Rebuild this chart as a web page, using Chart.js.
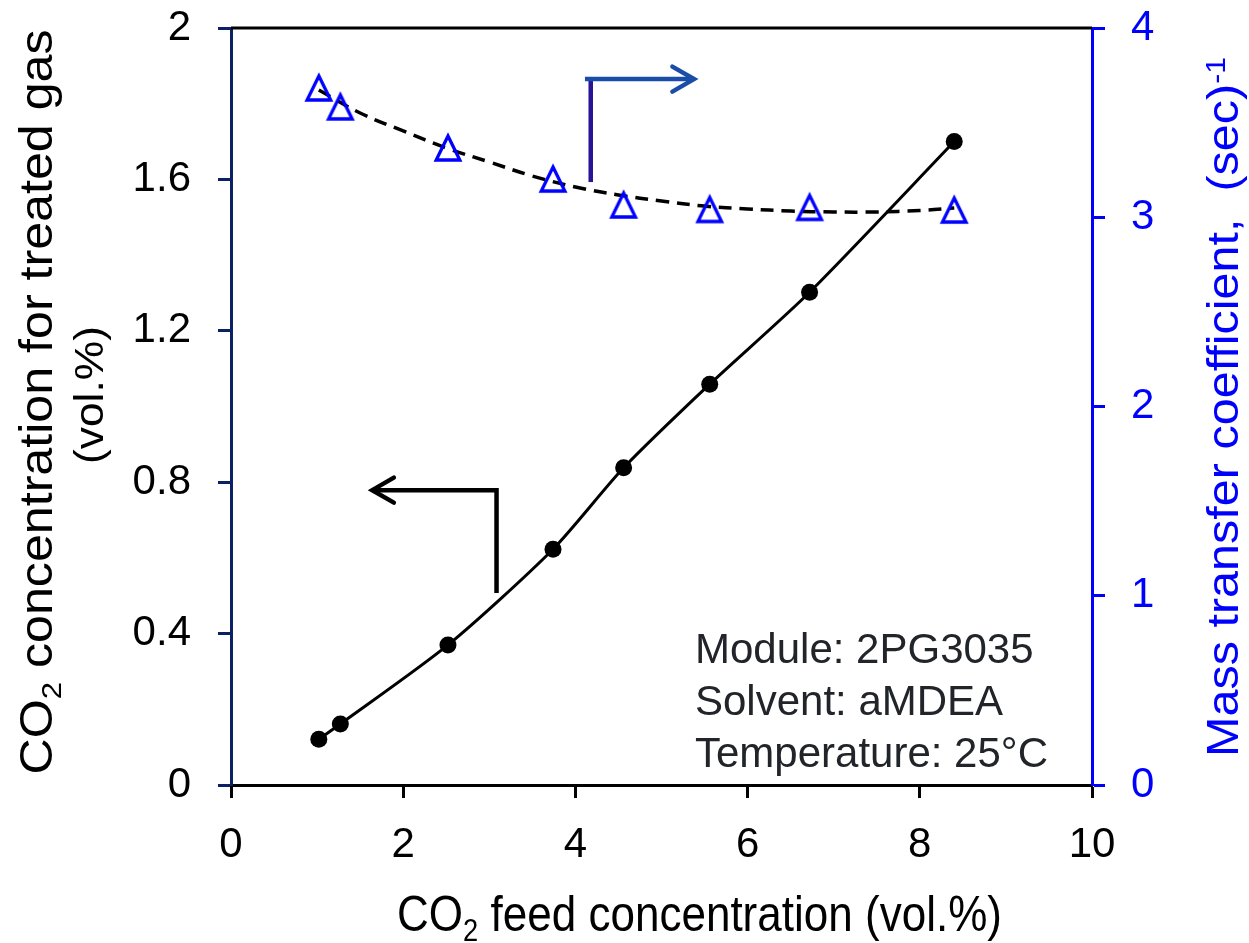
<!DOCTYPE html>
<html><head><meta charset="utf-8">
<script src="https://cdn.jsdelivr.net/npm/chart.js@4.4.1/dist/chart.umd.min.js"></script>
<style>html,body{margin:0;padding:0;background:#fff}canvas{display:block}</style>
</head><body>
<canvas id="c" width="1249" height="943"></canvas>
<script>
// ---- data ----
const feedCO2      = [1.02, 1.27, 2.52, 3.74, 4.56, 5.56, 6.72, 8.40];
const treatedCO2   = [0.121, 0.161, 0.370, 0.623, 0.838, 1.059, 1.302, 1.700];
const massTransfer = [3.683, 3.583, 3.366, 3.202, 3.065, 3.041, 3.052, 3.038];
const trendX  = [1.02, 1.5, 2, 2.5, 3, 3.5, 4, 4.5, 5, 5.5, 6, 6.5, 7, 7.5, 8, 8.4];
const trendMT = [3.672, 3.551, 3.456, 3.366, 3.292, 3.218, 3.160, 3.118, 3.086, 3.059, 3.044, 3.033, 3.028, 3.028, 3.036, 3.049];
const xTicks     = [0, 2, 4, 6, 8, 10];
const leftTicks  = [0, 0.4, 0.8, 1.2, 1.6, 2];
const rightTicks = [0, 1, 2, 3, 4];
const leftArrowX = [3.084, 3.084, 1.64];
const leftArrowY = [0.507, 0.779, 0.779];
const rightStemX = [4.178, 4.178];
const rightStemY = [3.186, 3.730];
const rightBarX  = [4.111, 5.378];
const rightBarY  = [3.730, 3.730];
const infoLines  = ['Module: 2PG3035', 'Solvent: aMDEA', 'Temperature: 25°C'];

const FONT = '"Liberation Sans", Arial, sans-serif';

function triangleImage() {
  const c = document.createElement('canvas');
  c.width = 36; c.height = 36;
  const g = c.getContext('2d');
  g.strokeStyle = '#0000ff';
  g.lineWidth = 3.3;
  g.beginPath();
  g.moveTo(18, 18 - 12);
  g.lineTo(18 + 11.8, 18 + 12);
  g.lineTo(18 - 11.8, 18 + 12);
  g.closePath();
  g.stroke();
  return c;
}

function drawRich(ctx, parts, o) {
  const F = o.size;
  ctx.save();
  ctx.translate(o.x, o.y);
  ctx.rotate(o.rot || 0);
  let w = 0; const m = [];
  for (const p of parts) {
    const fs = (p.sub || p.sup) ? F * 0.62 : F;
    ctx.font = fs + 'px ' + FONT;
    const pw = ctx.measureText(p.t).width;
    m.push({ p, fs, pw }); w += pw;
  }
  const sx = o.len ? o.len / w : 1;
  ctx.scale(sx, o.sy || 1);
  ctx.fillStyle = o.color;
  ctx.textBaseline = 'alphabetic';
  ctx.textAlign = 'left';
  let cx = -w / 2;
  for (const it of m) {
    ctx.font = it.fs + 'px ' + FONT;
    let dy = 0;
    if (it.p.sub) dy = F * 0.2;
    if (it.p.sup) dy = -F * 0.3;
    ctx.fillText(it.p.t, cx, dy);
    cx += it.pw;
  }
  ctx.restore();
}

function arrowHead(ctx, tx, ty, dirx, diry, len, ang) {
  const a = Math.atan2(diry, dirx);
  ctx.beginPath();
  ctx.moveTo(tx - len * Math.cos(a - ang), ty - len * Math.sin(a - ang));
  ctx.lineTo(tx, ty);
  ctx.lineTo(tx - len * Math.cos(a + ang), ty - len * Math.sin(a + ang));
  ctx.stroke();
}

const decorPlugin = {
  id: 'decor',
  afterDatasetsDraw(chart) {
    const ctx = chart.ctx, x = chart.scales.x, y = chart.scales.y, y1 = chart.scales.y1;
    const ca = chart.chartArea;
    ctx.save();
    // top frame line
    ctx.strokeStyle = '#000'; ctx.lineWidth = 3;
    ctx.beginPath(); ctx.moveTo(ca.left, ca.top); ctx.lineTo(ca.right, ca.top); ctx.stroke();

    // left-pointing black arrow
    ctx.lineWidth = 4.5; ctx.lineCap = 'butt'; ctx.lineJoin = 'miter';
    ctx.beginPath();
    leftArrowX.forEach((v, i) => {
      const px = x.getPixelForValue(v), py = y.getPixelForValue(leftArrowY[i]);
      i ? ctx.lineTo(px, py) : ctx.moveTo(px, py);
    });
    ctx.stroke();
    ctx.lineCap = 'round';
    const lx = x.getPixelForValue(leftArrowX[2]), ly = y.getPixelForValue(leftArrowY[2]);
    arrowHead(ctx, lx, ly, -1, 0, 25, Math.PI / 6);

    // right-pointing blue arrow
    ctx.lineCap = 'butt';
    ctx.strokeStyle = '#2a1496';
    ctx.beginPath();
    ctx.moveTo(x.getPixelForValue(rightStemX[0]), y1.getPixelForValue(rightStemY[0]));
    ctx.lineTo(x.getPixelForValue(rightStemX[1]), y1.getPixelForValue(rightStemY[1]));
    ctx.stroke();
    ctx.strokeStyle = '#1a4ea6';
    ctx.beginPath();
    ctx.moveTo(x.getPixelForValue(rightBarX[0]), y1.getPixelForValue(rightBarY[0]));
    ctx.lineTo(x.getPixelForValue(rightBarX[1]), y1.getPixelForValue(rightBarY[1]));
    ctx.stroke();
    ctx.lineCap = 'round';
    arrowHead(ctx, x.getPixelForValue(rightBarX[1]), y1.getPixelForValue(rightBarY[1]), 1, 0, 25, Math.PI / 6);

    // info text
    ctx.fillStyle = '#212529';
    ctx.font = '42px ' + FONT;
    ctx.textAlign = 'left'; ctx.textBaseline = 'alphabetic';
    infoLines.forEach((t, i) => ctx.fillText(t, 695, 663 + i * 52));
    ctx.restore();

    // axis titles
    drawRich(ctx, [{ t: 'CO' }, { t: '2', sub: true }, { t: ' feed concentration (vol.%)' }],
      { x: 699.5, y: 931, size: 46, len: 605, sy: 1.1, color: '#000' });
    drawRich(ctx, [{ t: 'CO' }, { t: '2', sub: true }, { t: ' concentration for treated gas' }],
      { x: 52, y: 402, rot: -Math.PI / 2, size: 46, len: 745, color: '#000' });
    drawRich(ctx, [{ t: '(vol.%)' }],
      { x: 103, y: 395, rot: -Math.PI / 2, size: 40, len: 138, color: '#000' });
    drawRich(ctx, [{ t: 'Mass transfer coefficient,  (sec)' }, { t: '-1', sup: true }],
      { x: 1238, y: 407, rot: -Math.PI / 2, size: 45, len: 700, color: '#0000ff' });
  }
};

const tickFont = { family: FONT, size: 42 };

new Chart(document.getElementById('c'), {
  type: 'scatter',
  data: {
    datasets: [
      {
        label: 'Mass transfer trend',
        data: trendX.map((v, i) => ({ x: v, y: trendMT[i] })),
        yAxisID: 'y1', showLine: true, pointRadius: 0,
        borderColor: '#000', borderWidth: 3.5, borderDash: [13, 8],
        tension: 0.4, order: 3
      },
      {
        label: 'Mass transfer coefficient',
        data: feedCO2.map((v, i) => ({ x: v, y: massTransfer[i] })),
        yAxisID: 'y1', showLine: false,
        pointStyle: triangleImage(), pointRadius: 14, order: 1
      },
      {
        label: 'Treated gas CO2',
        data: feedCO2.map((v, i) => ({ x: v, y: treatedCO2[i] })),
        yAxisID: 'y', showLine: true,
        borderColor: '#000', borderWidth: 3,
        backgroundColor: '#000', pointBackgroundColor: '#000', pointBorderColor: '#000',
        pointRadius: 8.5, pointBorderWidth: 0,
        tension: 0.25, order: 2
      }
    ]
  },
  options: {
    responsive: false, animation: false, devicePixelRatio: 1,
    layout: { autoPadding: false, padding: { top: 28, left: 0, right: 0, bottom: 0 } },
    plugins: { legend: { display: false }, tooltip: { enabled: false } },
    scales: {
      x: {
        type: 'linear', position: 'bottom', min: 0, max: 10,
        afterBuildTicks: s => { s.ticks = xTicks.map(v => ({ value: v })); },
        afterFit: s => { s.height = 158; s.paddingLeft = 0; s.paddingRight = 0; },
        ticks: { font: tickFont, color: '#000', padding: 22, maxRotation: 0, autoSkip: false },
        grid: { drawOnChartArea: false, drawTicks: true, tickLength: 13, tickWidth: 3, tickColor: '#000' },
        border: { color: '#000', width: 3 }
      },
      y: {
        type: 'linear', position: 'left', min: 0, max: 2,
        afterBuildTicks: s => { s.ticks = leftTicks.map(v => ({ value: v })); },
        afterFit: s => { s.width = 231; s.paddingTop = 0; s.paddingBottom = 0; },
        ticks: { font: tickFont, color: '#000', padding: 27, callback: v => String(+(+v).toFixed(1)) },
        grid: { drawOnChartArea: false, drawTicks: true, tickLength: 13, tickWidth: 3, tickColor: '#0a2264' },
        border: { color: '#0a2264', width: 3 }
      },
      y1: {
        type: 'linear', position: 'right', min: 0, max: 4,
        afterBuildTicks: s => { s.ticks = rightTicks.map(v => ({ value: v })); },
        afterFit: s => { s.width = 157; s.paddingTop = 0; s.paddingBottom = 0; },
        ticks: { font: tickFont, color: '#0000ff', padding: 26 },
        grid: { drawOnChartArea: false, drawTicks: true, tickLength: 13, tickWidth: 3, tickColor: '#0000ff' },
        border: { color: '#0000ff', width: 3 }
      }
    }
  },
  plugins: [decorPlugin]
});
</script>
</body></html>
